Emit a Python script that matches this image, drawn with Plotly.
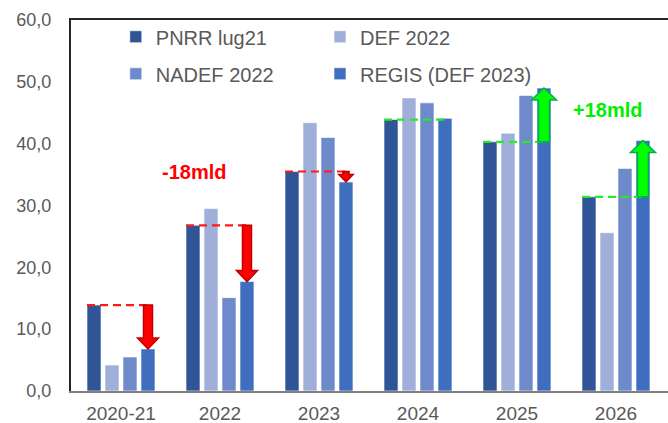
import plotly.graph_objects as go

categories = ["2020-21", "2022", "2023", "2024", "2025", "2026"]
pnrr_lug21 = [13.9, 26.8, 35.5, 43.9, 40.3, 31.4]
def_2022 = [4.2, 29.5, 43.4, 47.4, 41.7, 25.6]
nadef_2022 = [5.5, 15.1, 41.0, 46.6, 47.8, 36.0]
regis_def2023 = [6.8, 17.7, 33.8, 44.1, 49.0, 40.5]

series_names = ["PNRR lug21", "DEF 2022", "NADEF 2022", "REGIS (DEF 2023)"]
series_colors = ["#2F5597", "#A0AFDA", "#6E8ACB", "#3F6EBF"]
series_legends = ["legend", "legend2", "legend", "legend2"]

# figure is slightly wider than the 668px window so the plot frame has no right edge
W, H = 680, 423
ML, MR, MT, MB = 71, 0, 20, 32
CAT_PX = 99.0            # pixels per category
X_LEFT = -0.505
X_RANGE = [X_LEFT, X_LEFT + (W - ML - MR) / CAT_PX]
Y_RANGE = [0, 60]
px_per_x = CAT_PX
px_per_y = (H - MT - MB) / (Y_RANGE[1] - Y_RANGE[0])
plot_w = W - ML - MR

BARGAP = 0.273
BARGROUPGAP = 0.222
slot = (1 - BARGAP) / 4
bar1_left_off = -(1 - BARGAP) / 2 + slot * BARGROUPGAP / 2
bar4_center_off = (1 - BARGAP) / 2 - slot / 2

xs = list(range(len(categories)))
fig = go.Figure()
for k, (name, vals, col, lg) in enumerate(zip(series_names,
        [pnrr_lug21, def_2022, nadef_2022, regis_def2023], series_colors, series_legends)):
    fig.add_trace(go.Bar(
        x=xs, y=vals, name=name, legend=lg, legendgroup=f"g{k}",
        marker=dict(color=col, line=dict(color="rgba(255,255,255,0.6)", width=1)),
    ))
# empty helper trace on the top axis so the frame's top edge is drawn
fig.add_trace(go.Scatter(x=[None], y=[None], xaxis="x2", yaxis="y", showlegend=False))

shapes = []

def arrow_path(xc, y_from, y_to, shaft_px, head_px, headlen_px):
    length_px = abs(y_to - y_from) * px_per_y
    scale = min(1.0, length_px / (1.4 * headlen_px))
    hs = shaft_px * scale / 2 / px_per_x
    hh = head_px * scale / 2 / px_per_x
    hl = headlen_px * scale / px_per_y
    d = 1 if y_to > y_from else -1
    yb = y_to - d * hl
    pts = [(xc - hs, y_from), (xc - hs, yb), (xc - hh, yb), (xc, y_to),
           (xc + hh, yb), (xc + hs, yb), (xc + hs, y_from)]
    return "M" + " L".join(f"{px:.4f},{py:.4f}" for px, py in pts) + " Z"

for i, (base, new) in enumerate(zip(pnrr_lug21, regis_def2023)):
    diff = new - base
    up = diff >= 0
    dash_col = "#22EE22" if up else "#FF1A1A"
    shapes.append(dict(type="line", xref="x", yref="y",
                       x0=i + bar1_left_off, x1=i + bar4_center_off, y0=base, y1=base,
                       line=dict(color=dash_col, width=2.2, dash="8px,5px")))
    if abs(diff) > 1:
        if up:
            path = arrow_path(i + bar4_center_off, base, new, 11, 25, 12)
            fill, edge = "#00FF00", "#00B050"
        else:
            path = arrow_path(i + bar4_center_off, base, new, 9, 21, 11)
            fill, edge = "#FF0000", "#C00000"
        shapes.append(dict(type="path", xref="x", yref="y", path=path,
                           fillcolor=fill, line=dict(color=edge, width=1.5)))

annotations = [
    dict(x=0.737, y=35.4, xref="x", yref="y", text="<b>-18mld</b>", showarrow=False,
         font=dict(family="Liberation Sans, Arial", size=20, color="#FF0000")),
    dict(x=4.91, y=45.4, xref="x", yref="y", text="<b>+18mld</b>", showarrow=False,
         font=dict(family="Liberation Sans, Arial", size=20, color="#00EE00")),
]

legend_font = dict(family="Liberation Sans, Arial", size=20, color="#595959")
fig.update_layout(
    template="none",
    width=W, height=H,
    margin=dict(l=ML, r=MR, t=MT, b=MB, autoexpand=False),
    paper_bgcolor="white", plot_bgcolor="white",
    barmode="group", bargap=BARGAP, bargroupgap=BARGROUPGAP,
    separators=",.",
    hovermode=False,
    font=dict(family="Liberation Sans, Arial", size=18, color="#595959"),
    showlegend=True,
    legend=dict(orientation="v", x=44.8 / plot_w, y=0.905, xanchor="left", yanchor="middle",
                font=legend_font, tracegroupgap=8, bgcolor="rgba(0,0,0,0)",
                borderwidth=0, traceorder="grouped"),
    legend2=dict(orientation="v", x=249.0 / plot_w, y=0.905, xanchor="left", yanchor="middle",
                 font=legend_font, tracegroupgap=8, bgcolor="rgba(0,0,0,0)",
                 borderwidth=0, traceorder="grouped"),
    xaxis=dict(range=X_RANGE, tickmode="array", tickvals=xs, ticktext=categories,
               showgrid=False, zeroline=False, showline=True, linecolor="#808080",
               linewidth=2, mirror=False, ticks="", ticklabelstandoff=4, automargin=False,
               tickfont=dict(size=19, color="#595959")),
    xaxis2=dict(range=X_RANGE, overlaying="x", side="top", anchor="y",
                showgrid=False, zeroline=False, showline=True, linecolor="#262626",
                linewidth=2, mirror=False, ticks="", showticklabels=False, automargin=False),
    yaxis=dict(range=Y_RANGE, dtick=10, tickformat=".1f", showgrid=False, zeroline=False,
               showline=True, linecolor="#262626", linewidth=2, mirror=False, ticks="",
               ticklabelstandoff=14, automargin=False,
               tickfont=dict(size=18, color="#595959")),
    shapes=shapes, annotations=annotations,
)

fig.write_html("out.html", config={"displayModeBar": False, "staticPlot": True},
               post_script="document.body.style.margin='0';document.body.style.overflow='hidden';")
